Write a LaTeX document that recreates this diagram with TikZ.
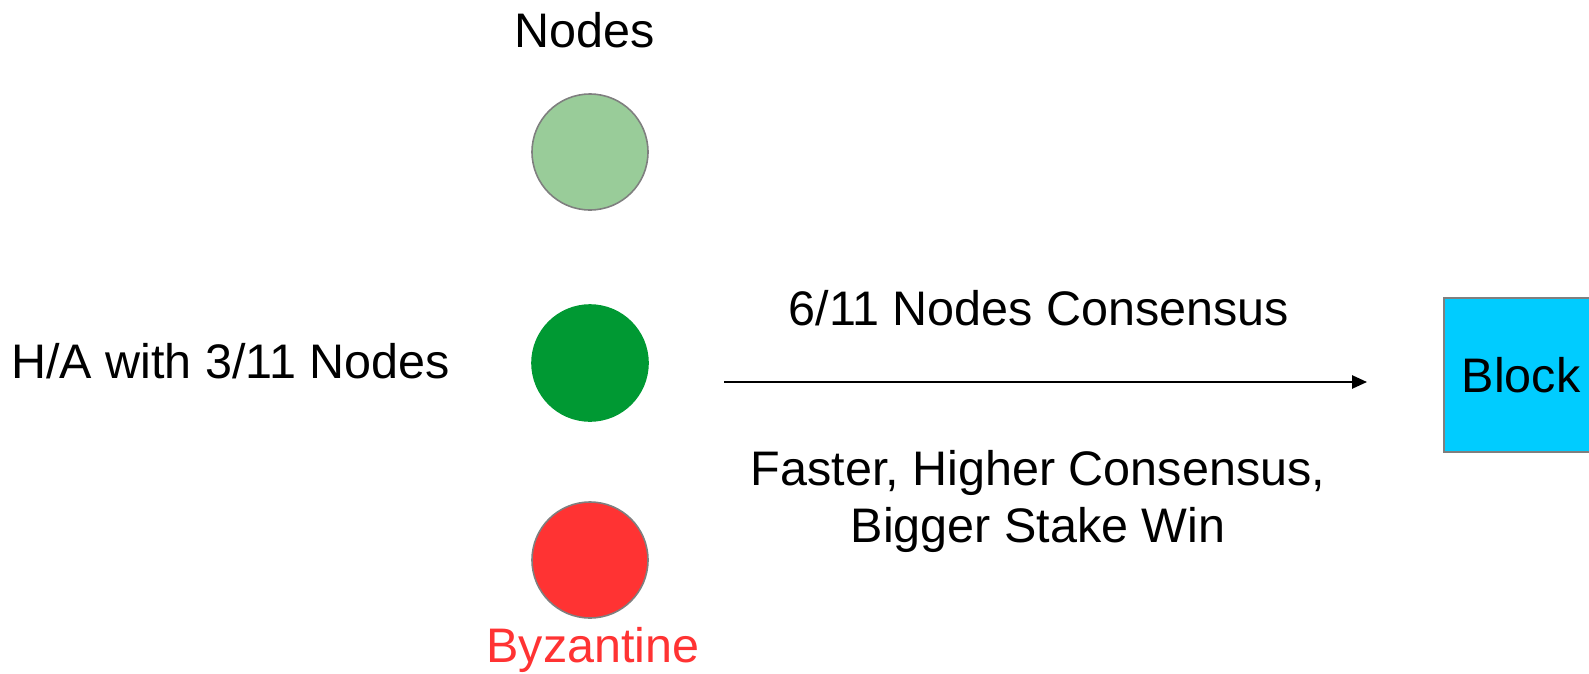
\documentclass[tikz,border=0pt]{standalone}
\usepackage{fontspec}
\setmainfont{Liberation Sans}
\usepackage{xcolor}
\usepackage{tikz}
\usetikzlibrary{arrows.meta}
\definecolor{edge}{HTML}{7F7F7F}
\definecolor{paleg}{HTML}{99CC99}
\definecolor{honest}{HTML}{009933}
\definecolor{byz}{HTML}{FF3333}
\definecolor{blockc}{HTML}{00CCFF}
\tikzset{
  txt/.style={inner sep=0pt, font=\fontsize{27.6}{32.3}\selectfont},
  peer/.style={circle, minimum size=116*0.02cm, inner sep=0pt, line width=0.9pt},
  blk/.style={draw=edge, fill=blockc, line width=0.9pt, minimum size=154*0.02cm, inner sep=0pt},
  flow/.style={line width=1.1pt, -{Triangle[length=8.5pt,width=7.5pt]}},
}
\begin{document}
\begin{tikzpicture}[x=0.02cm, y=-0.02cm]
  \useasboundingbox (0,0) rectangle (1589,673);
  \begin{scope}
  \clip (0,0) rectangle (1589,673);

  % the three nodes
  \node[txt, anchor=base] (title) at (585,47) {Nodes};
  \node[peer, draw=edge, fill=paleg] (n1) at (590,152) {};
  \node[peer, draw=honest, fill=honest] (n2) at (590,363) {};
  \node[peer, draw=edge, fill=byz] (n3) at (590,560) {};
  \node[txt, anchor=base, text=byz] (byzlab) at (593,662) {Byzantine};
  \node[txt, anchor=base west] (ha) at (11,378) {H/A with 3/11 Nodes};

  % consensus arrow and block
  \coordinate (arrS) at (724,382);
  \coordinate (arrE) at (1367,382);
  \draw[flow] (arrS) -- (arrE);
  \node[txt, anchor=base] (cons) at (1039,325) {6/11 Nodes Consensus};
  \node[txt, anchor=base, align=center] (rule) at (1038,542) {Faster, Higher Consensus,\\Bigger Stake Win};
  \node[blk, txt, minimum size=154*0.02cm] (block) at (1521,375) {Block};
  \end{scope}
\end{tikzpicture}
\end{document}
